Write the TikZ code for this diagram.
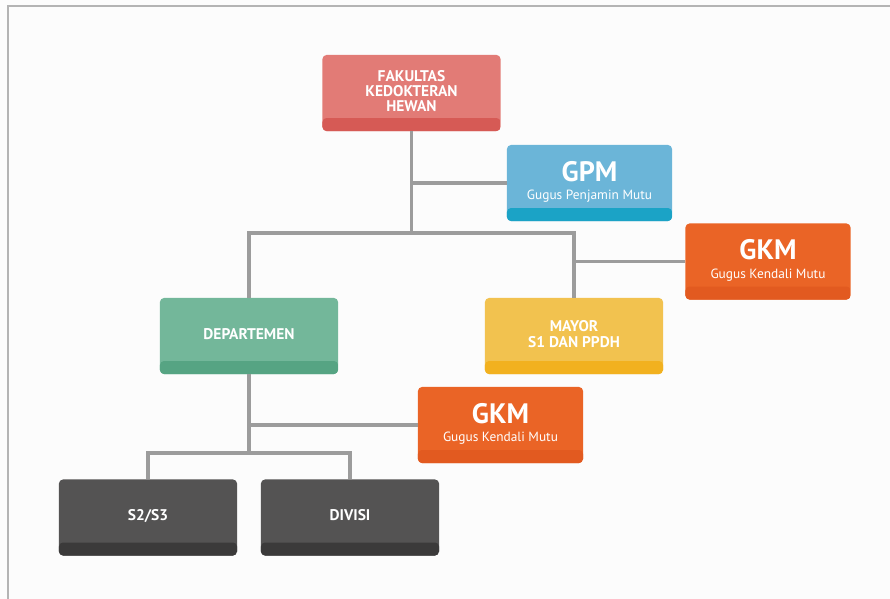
\documentclass[tikz,border=0pt]{standalone}
\usepackage{fontspec}
\setmainfont{PT Sans}
\usepackage{tikz}
\usetikzlibrary{positioning}
\usetikzlibrary{calc}

\definecolor{fkhcol}{HTML}{E27B76}
\definecolor{fkhband}{HTML}{D65A55}
\definecolor{gpmcol}{HTML}{6BB5D8}
\definecolor{gpmband}{HTML}{1BA3C6}
\definecolor{gkmcol}{HTML}{EA6426}
\definecolor{gkmband}{HTML}{E25A20}
\definecolor{depcol}{HTML}{73B79A}
\definecolor{depband}{HTML}{56A483}
\definecolor{maycol}{HTML}{F2C24F}
\definecolor{mayband}{HTML}{F2B11F}
\definecolor{divcol}{HTML}{545353}
\definecolor{divband}{HTML}{3B3A3A}
\definecolor{wirecol}{HTML}{9C9C9C}
\definecolor{framecol}{HTML}{B4B4B4}

\newcommand{\boxtitle}[1]{\raisebox{3pt}{\fontsize{11}{9.5}\selectfont\bfseries
  \begin{tabular}{@{}c@{}}#1\end{tabular}}}
\newcommand{\gugus}[2]{\raisebox{3pt}{\begin{tabular}{@{}c@{}}{\fontsize{20}{18}\selectfont\bfseries #1}\\[1pt]
  {\fontsize{9.5}{10}\selectfont #2}\end{tabular}}}

\begin{document}
\begin{tikzpicture}[x=0.025cm,y=-0.025cm,
  box/.style 2 args={rounded corners=0.1cm,fill=#1,text=white,minimum height=1.9cm,inner sep=0pt,
    path picture={\fill[#2] (path picture bounding box.south west) rectangle ([yshift=0.325cm]path picture bounding box.south east);}},
  wide/.style={minimum width=4.45cm},
  narrow/.style={minimum width=4.125cm},
  wire/.style={draw=wirecol,line width=2.8pt}]
\useasboundingbox (0,0) rectangle (890,599);
\fill[white!99!black] (0,0) rectangle (890,599);
\draw[framecol,line width=0.8pt] (890,6) -- (8,6) -- (8,599);

%kotak
\node[box={fkhcol}{fkhband},wide] (fkh) at (411.5,93) {\boxtitle{FAKULTAS\\KEDOKTERAN\\HEWAN}};
\node[box={gpmcol}{gpmband},narrow] (gpm) at (589.5,183) {\gugus{GPM}{Gugus Penjamin Mutu}};
\node[box={gkmcol}{gkmband},narrow] (gkma) at (768,261.5) {\gugus{GKM}{Gugus Kendali Mutu}};
\node[box={depcol}{depband},wide] (dep) at (249,336) {\boxtitle{DEPARTEMEN}};
\node[box={maycol}{mayband},wide] (may) at (574,336) {\boxtitle{MAYOR\\S1 DAN PPDH}};
\node[box={gkmcol}{gkmband},narrow] (gkmb) at (500.5,425) {\gugus{GKM}{Gugus Kendali Mutu}};
\node[box={divcol}{divband},wide] (s23) at (148,517.5) {\boxtitle{S2/S3}};
\node[box={divcol}{divband},wide] (div) at (350,517.5) {\boxtitle{DIVISI}};

%tingkat
\coordinate (lvl1) at (0,233);
\coordinate (lvl2) at (0,453);

%garis
\draw[wire] (fkh.south) -- (fkh.south |- lvl1);
\draw[wire] (fkh.south |- gpm.west) -- (gpm.west);
\draw[wire] (dep.north) -- (dep.north |- lvl1) -- (may.north |- lvl1) -- (may.north);
\draw[wire] (may.north |- gkma.west) -- (gkma.west);
\draw[wire] (dep.south) -- (dep.south |- lvl2);
\draw[wire] (dep.south |- gkmb.west) -- (gkmb.west);
\draw[wire] (s23.north) -- (s23.north |- lvl2) -- (div.north |- lvl2) -- (div.north);

%end
\end{tikzpicture}
\end{document}
